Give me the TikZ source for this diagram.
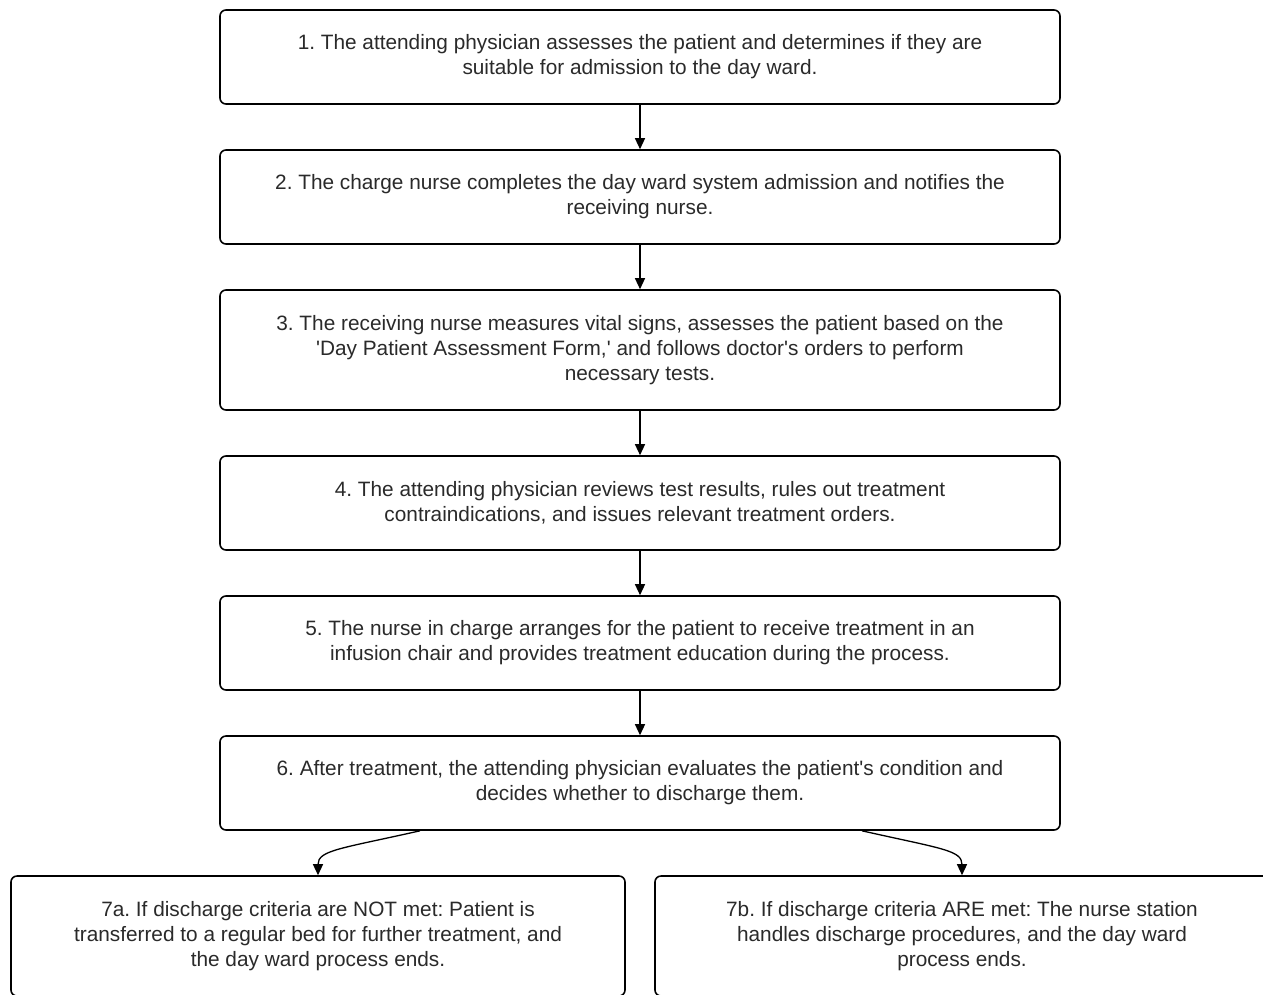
\documentclass[tikz,border=0pt]{standalone}
\usepackage{fontspec}
\setmainfont{Liberation Sans}[Ligatures=TeXOff]
\usetikzlibrary{arrows.meta}
\definecolor{textgray}{HTML}{2A2A2A}
\frenchspacing
\begin{document}
\frenchspacing
\begin{tikzpicture}[x=1pt,y=-1pt,
  stepbox/.style={draw=black, line width=1.6pt, rounded corners=6pt,
    minimum width=840pt, minimum height=94pt, align=center, text=textgray,
    font=\fontsize{20.8}{25}\selectfont, inner sep=0pt},
  arr/.style={-{Triangle[length=11pt,width=10pt]}, line width=1.3pt}]
\useasboundingbox[fill=white] (0,0) rectangle (1263,994);
\node[stepbox] (b1) at (640,57) {1. The attending physician assesses the patient and determines if they are\\suitable for admission to the day ward.};
\node[stepbox] (b2) at (640,197) {2. The charge nurse completes the day ward system admission and notifies the\\receiving nurse.};
\node[stepbox, minimum height=120pt] (b3) at (640,350) {3. The receiving nurse measures vital signs, assesses the patient based on the\\'Day Patient Assessment Form,' and follows doctor's orders to perform\\necessary tests.};
\node[stepbox] (b4) at (640,503) {4. The attending physician reviews test results, rules out treatment\\contraindications, and issues relevant treatment orders.};
\node[stepbox] (b5) at (640,643) {5. The nurse in charge arranges for the patient to receive treatment in an\\infusion chair and provides treatment education during the process.};
\node[stepbox] (b6) at (640,783) {6. After treatment, the attending physician evaluates the patient's condition and\\decides whether to discharge them.};
\node[stepbox, minimum width=614pt, minimum height=120pt] (b7a) at (318,936) {7a. If discharge criteria are NOT met: Patient is\\transferred to a regular bed for further treatment, and\\the day ward process ends.};
\node[stepbox, minimum width=614pt, minimum height=120pt] (b7b) at (962,936) {7b. If discharge criteria ARE met: The nurse station\\handles discharge procedures, and the day ward\\process ends.};
\draw[arr] (b1) -- (b2);
\draw[arr] (b2) -- (b3);
\draw[arr] (b3) -- (b4);
\draw[arr] (b4) -- (b5);
\draw[arr] (b5) -- (b6);
\draw[arr] ([xshift=-220pt]b6.south) .. controls +(-80,18) and +(0,-25) .. (b7a.north);
\draw[arr] ([xshift=222pt]b6.south) .. controls +(80,18) and +(0,-25) .. (b7b.north);
\end{tikzpicture}
\end{document}
